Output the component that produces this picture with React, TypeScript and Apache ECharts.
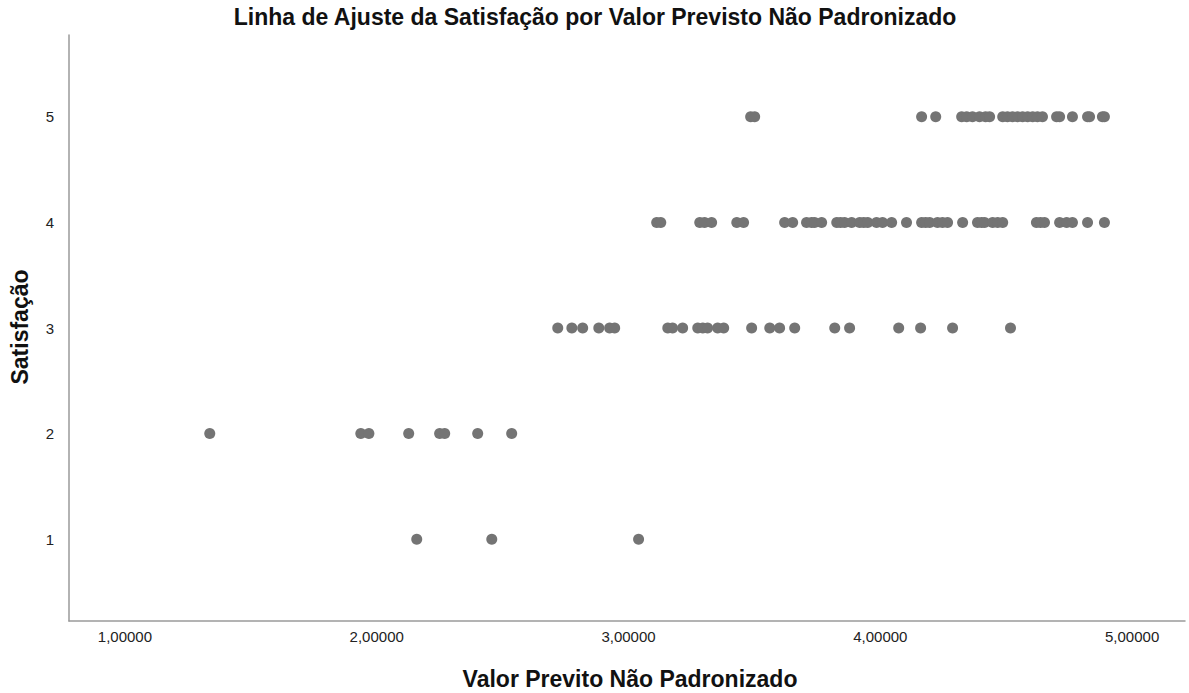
import React, { useEffect, useRef } from "react";
import * as echarts from "echarts";

const xTicks = [1, 2, 3, 4, 5];
const yTicks = [1, 2, 3, 4, 5];

const row1 = [2.159, 2.457, 3.04];
const row2 = [1.337, 1.937, 1.969, 2.127, 2.25, 2.27, 2.401, 2.536];
const row3 = [
  2.719, 2.775, 2.818, 2.882, 2.925, 2.945, 3.156, 3.175, 3.215, 3.275, 3.295, 3.314,
  3.354, 3.378, 3.489, 3.561, 3.6, 3.66, 3.819, 3.878, 4.073, 4.16, 4.287, 4.517,
];
const row4 = [
  3.112, 3.128, 3.283, 3.302, 3.33, 3.43, 3.457, 3.62, 3.652, 3.707, 3.727, 3.739,
  3.767, 3.827, 3.842, 3.858, 3.886, 3.918, 3.934, 3.95, 3.985, 4.009, 4.045, 4.104,
  4.164, 4.18, 4.196, 4.227, 4.247, 4.267, 4.327, 4.386, 4.402, 4.414, 4.446, 4.466,
  4.486, 4.62, 4.636, 4.652, 4.712, 4.74, 4.763, 4.823, 4.89,
];
const row5 = [
  3.485, 3.501, 4.164, 4.22, 4.323, 4.343, 4.366, 4.394, 4.418, 4.434, 4.486, 4.505,
  4.525, 4.545, 4.565, 4.585, 4.605, 4.624, 4.644, 4.7, 4.712, 4.763, 4.823, 4.831,
  4.882, 4.89,
];
const rows = [row1, row2, row3, row4, row5];

const FONT = "'Liberation Sans', Arial, sans-serif";

export default function App() {
  const ref = useRef<HTMLDivElement>(null);
  useEffect(() => {
    if (!ref.current) return;
    const chart = echarts.init(ref.current, null, { renderer: "svg" });
    const data: number[][] = [];
    rows.forEach((r, i) => r.forEach((x) => data.push([x, i + 1])));
    chart.setOption({
      animation: false,
      backgroundColor: "#ffffff",
      grid: { left: 69, right: 4, top: 35, bottom: 72 },
      xAxis: {
        type: "value",
        min: 0.778,
        max: 5.21,
        axisLine: { show: true, lineStyle: { color: "#9a9a9a", width: 1.5 } },
        axisTick: { show: false },
        splitLine: { show: false },
        axisLabel: {
          customValues: xTicks,
          formatter: (v: number) => v.toFixed(5).replace(".", ","),
          color: "#222",
          fontSize: 15,
          fontFamily: FONT,
          margin: 8,
        },
      },
      yAxis: {
        type: "value",
        min: 0.225,
        max: 5.775,
        axisLine: { show: true, lineStyle: { color: "#9a9a9a", width: 1.5 } },
        axisTick: { show: false },
        splitLine: { show: false },
        axisLabel: {
          customValues: yTicks,
          formatter: (v: number) => String(v),
          color: "#222",
          fontSize: 15,
          fontFamily: FONT,
          margin: 15,
        },
      },
      graphic: [
        {
          type: "text",
          x: 595,
          y: 17,
          style: {
            text: "Linha de Ajuste da Satisfação por Valor Previsto Não Padronizado",
            fontSize: 23,
            fontWeight: "bold",
            fontFamily: FONT,
            fill: "#111",
            align: "center",
            verticalAlign: "middle",
          },
        },
        {
          type: "text",
          x: 630,
          y: 679,
          style: {
            text: "Valor Previto Não Padronizado",
            fontSize: 23,
            fontWeight: "bold",
            fontFamily: FONT,
            fill: "#111",
            align: "center",
            verticalAlign: "middle",
          },
        },
        {
          type: "text",
          x: 20,
          y: 327,
          rotation: Math.PI / 2,
          style: {
            text: "Satisfação",
            fontSize: 23,
            fontWeight: "bold",
            fontFamily: FONT,
            fill: "#111",
            align: "center",
            verticalAlign: "middle",
          },
        },
      ],
      series: [
        {
          type: "scatter",
          data,
          symbolSize: 11,
          itemStyle: { color: "#747474", opacity: 1 },
        },
      ],
    });
    return () => chart.dispose();
  }, []);
  return (
    <div
      ref={ref}
      style={{ position: "fixed", left: 0, top: 0, width: 1189, height: 693 }}
    />
  );
}
